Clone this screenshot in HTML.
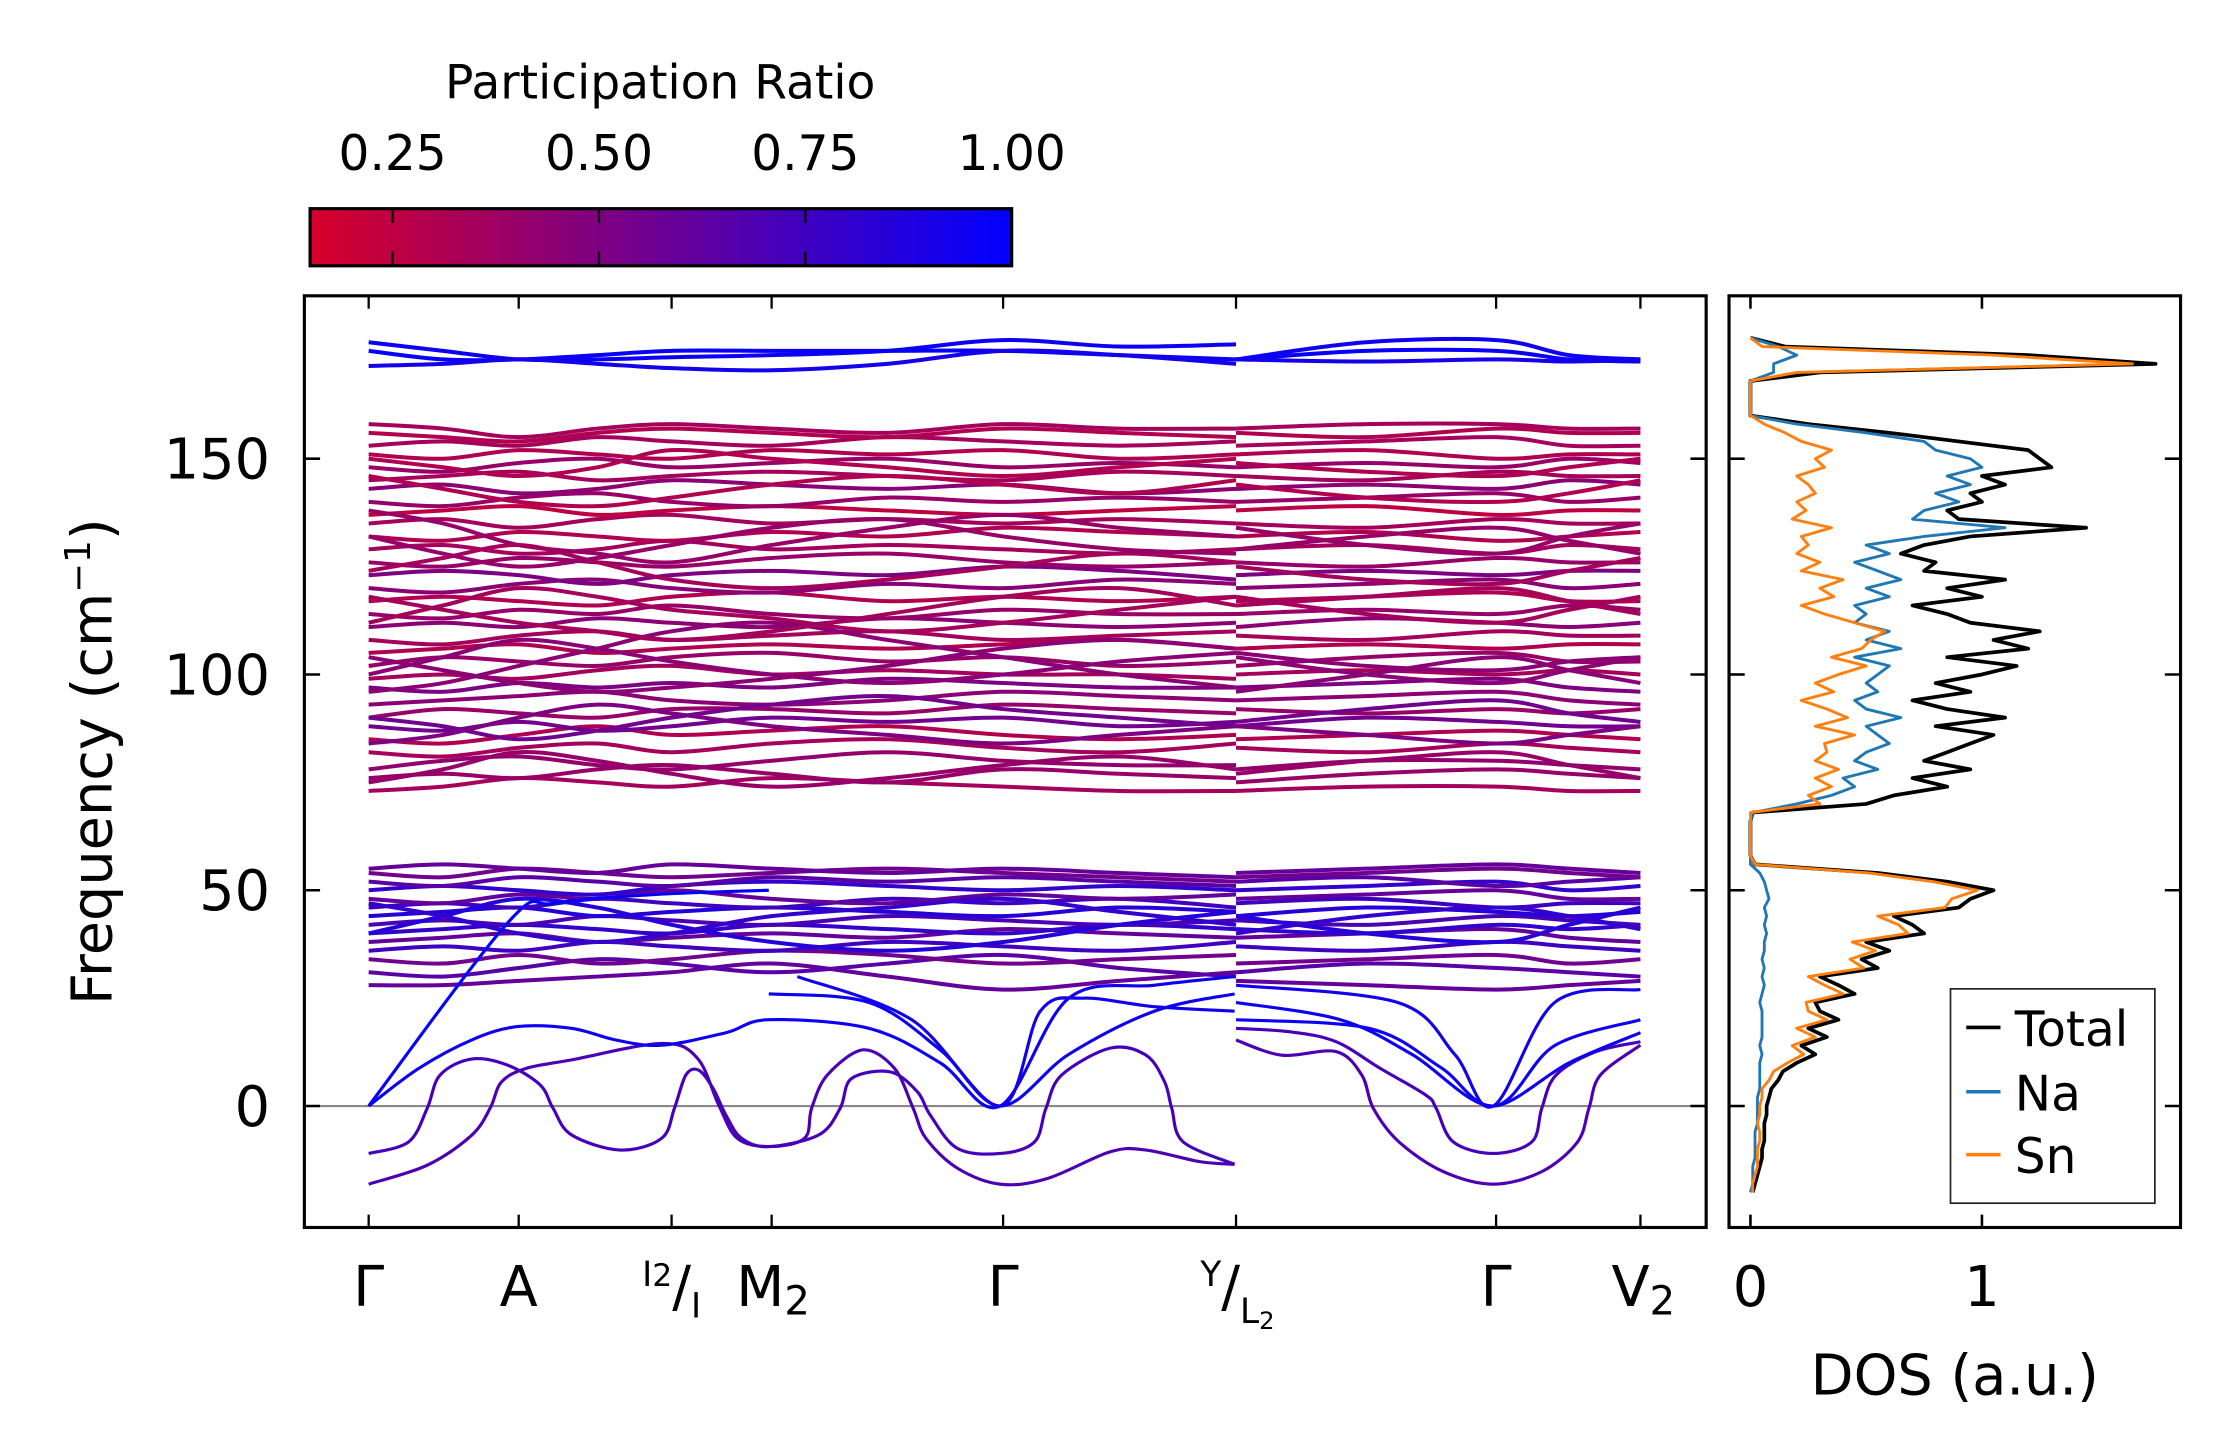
<!DOCTYPE html>
<html><head><meta charset="utf-8"><style>
html,body{margin:0;padding:0;background:#fff;}
svg{display:block;font-family:"DejaVu Sans","Liberation Sans",sans-serif;}
</style></head><body>
<svg id="fig" width="2222" height="1455" viewBox="0 0 1555 1018.2" xmlns="http://www.w3.org/2000/svg">
<defs>
<linearGradient id="cmap" x1="0" x2="1" y1="0" y2="0">
<stop offset="0" stop-color="rgb(215,0,42)"/><stop offset="1" stop-color="rgb(0,0,255)"/>
</linearGradient>
<clipPath id="mainClip"><rect x="213" y="207" width="981" height="652"/></clipPath>
<clipPath id="dosClip"><rect x="1210" y="207" width="316" height="652"/></clipPath>
</defs>
<g>
<text x="462" y="69" font-size="33" text-anchor="middle">Participation Ratio</text>
<rect x="217" y="146" width="491" height="40" fill="url(#cmap)" stroke="#000" stroke-width="2.2"/>
<g id="cbTicks"></g>
</g>
<g id="mainPlot">
<line x1="213" x2="1194" y1="774" y2="774" stroke="#888" stroke-width="1.5"/>
<g id="bands" clip-path="url(#mainClip)"></g>
<rect x="213" y="207" width="981" height="652" fill="none" stroke="#000" stroke-width="2.2"/>
<g id="mainTicks"></g>
<text transform="translate(78,533) rotate(-90)" font-size="39" text-anchor="middle">Frequency (cm<tspan font-size="25" dy="-15">−1</tspan><tspan dy="15">)</tspan></text>
<g font-size="39" text-anchor="middle">
<text x="258" y="914">Γ</text>
<text x="363" y="914">A</text>
<text x="470" y="914"><tspan font-size="24" dy="-14">I</tspan><tspan font-size="22" dy="0">2</tspan><tspan dy="14">/</tspan><tspan font-size="24" dy="8">I</tspan></text>
<text x="541" y="914">M<tspan font-size="28" dy="6">2</tspan></text>
<text x="702" y="914">Γ</text>
<text x="866" y="914"><tspan font-size="24" dy="-14">Y</tspan><tspan dy="14">/</tspan><tspan font-size="24" dy="12">L</tspan><tspan font-size="17" dy="4">2</tspan></text>
<text x="1047" y="914">Γ</text>
<text x="1150" y="914">V<tspan font-size="28" dy="6">2</tspan></text>
</g>
</g>
<g id="dosPlot">
<g id="dosLines" clip-path="url(#dosClip)"></g>
<rect x="1210" y="207" width="316" height="652" fill="none" stroke="#000" stroke-width="2.2"/>
<g id="dosTicks"></g>
<text x="1368" y="976" font-size="39" text-anchor="middle">DOS (a.u.)</text>
<g>
<rect x="1365" y="692" width="143" height="150" fill="#fff" stroke="#222" stroke-width="1.2"/>
<line x1="1376" x2="1400" y1="719" y2="719" stroke="#000" stroke-width="2.5"/><text x="1410" y="732" font-size="34">Total</text>
<line x1="1376" x2="1400" y1="764" y2="764" stroke="#1f77b4" stroke-width="2.5"/><text x="1410" y="777" font-size="34">Na</text>
<line x1="1376" x2="1400" y1="808" y2="808" stroke="#ff7f0e" stroke-width="2.5"/><text x="1410" y="821" font-size="34">Sn</text>
</g>
</g>
</svg>
<script>
const kLabelPos = [0, 1.05, 2.12, 2.82, 4.44, 6.07, 7.89, 8.9];
const kC1 = [0,0.52,1.05,1.6,2.12,2.82,3.63,4.44,5.25,6.07];
const kC2 = [6.07,6.98,7.89,8.4,8.9];
const yTickVals = [0,50,100,150];
const cbTickVals = [0.25,0.5,0.75,1.0];
const cbTickLabels = ["0.25","0.50","0.75","1.00"];
const topF = [
[177,175,173,173,173.5,174,175,177.5,176,176.5, 173,177,177.5,174,173],
[175,173,173,174,175,175,175,175,174,173, 173,175,175,173,172.5],
[171.5,172,173,172,171,170.5,172,175,174,172, 173,172.5,173,172.5,173]];
const topP = [0.95,0.97,0.92];
const optF = [
[73,74,76,75,74,76,75,74,73,73, 73,74,74,73,73],
[76,77,76,78,79,77,75,78,77,76, 75,77,78,77,76],
[78,80,81,79,78,80,82,80,79,79, 78,80,80,79,78],
[82,81,83,84,82,84,85,83,82,84, 83,82,84,83,82],
[85,84,86,88,86,87,88,86,85,86, 85,86,87,86,85],
[88,87,89,87,88,90,89,90,88,89, 88,90,89,88,88],
[90,92,91,90,92,92,91,93,92,91, 92,91,92,91,92],
[93,94,95,96,94,93,94,96,95,94, 94,95,96,94,93],
[97,96,98,97,98,97,99,98,97,97, 97,98,99,97,96],
[99,100,99,101,102,100,101,100,100,99, 100,101,100,101,100],
[102,104,103,102,104,105,103,104,102,103, 102,104,105,103,103],
[105,106,107,105,106,107,106,107,108,106, 106,107,106,107,107],
[108,107,109,110,108,109,110,108,109,110, 109,108,110,109,109],
[111,112,111,113,112,111,113,112,111,112, 111,113,112,111,112],
[114,113,115,114,116,114,113,115,114,114, 114,115,114,116,115],
[117,118,117,116,118,119,117,118,117,118, 117,118,119,117,117],
[120,119,121,122,120,119,121,120,122,121, 120,121,122,120,121],
[123,124,123,121,123,124,123,125,124,122, 123,124,123,124,124],
[126,125,127,126,125,127,128,126,125,126, 126,125,127,126,126],
[129,130,128,129,131,129,130,129,128,129, 129,130,128,130,129],
[132,131,133,132,131,133,132,134,133,132, 132,133,131,132,133],
[135,136,134,136,137,135,136,135,136,135, 135,134,136,135,135],
[137,138,139,137,138,139,138,137,138,139, 138,139,137,138,138],
[140,139,141,142,140,139,141,140,141,140, 140,141,142,140,141],
[143,144,142,143,145,144,143,144,142,143, 143,144,143,145,144],
[145,146,147,145,146,147,146,145,147,146, 146,145,147,146,146],
[148,147,149,150,148,149,150,148,149,148, 148,149,148,150,149],
[151,150,152,151,150,152,151,152,150,151, 151,152,150,151,151],
[153,154,153,155,154,153,155,154,153,154, 153,154,155,153,153],
[156,155,154,156,157,156,155,157,156,155, 156,155,157,156,156],
[158,157,155,157,158,157,156,158,157,157, 157,158,158,157,157],
[96,98,102,106,110,112,108,104,100,97, 96,100,104,101,98],
[118,115,112,110,108,110,114,118,120,116, 118,114,112,115,118],
[138,135,130,128,126,130,134,137,134,132, 134,130,128,132,135],
[84,86,90,93,91,88,86,84,86,88, 88,86,84,86,88],
[112,116,120,118,115,113,110,112,115,118, 116,118,120,117,114],
[146,143,140,139,141,144,146,144,142,145, 144,141,140,142,145],
[104,101,98,96,97,99,102,106,108,106, 105,102,101,103,104],
[75,78,82,80,77,74,76,79,81,78, 77,80,82,79,76],
[90,88,85,87,90,93,95,92,90,88, 89,92,94,91,89],
[124,127,130,126,122,120,122,125,128,126, 125,122,121,124,127],
[150,148,146,148,152,150,148,146,148,150, 149,147,146,148,150],
[100,104,108,106,103,100,98,100,103,105, 104,100,98,101,104],
[132,128,125,127,130,134,136,132,129,128, 129,132,134,131,128]];
const optP = [0.35,0.4,0.42,0.35,0.3,0.55,0.4,0.45,0.5,0.35,0.4,0.3,0.35,0.45,0.4,0.3,0.45,0.5,0.4,0.35,0.3,0.35,0.25,0.4,0.45,0.35,0.4,0.3,0.35,0.3,0.35,0.45,0.35,0.4,0.5,0.35,0.3,0.45,0.4,0.55,0.35,0.3,0.45,0.4];
const midF = [
[28,28,29,30,31,33,30,27,29,31, 29,28,27,28,29],
[31,30,32,34,33,31,33,35,32,30, 31,33,32,31,30],
[34,33,35,33,34,36,35,33,34,35, 33,34,35,33,34],
[36,37,36,38,37,36,38,37,36,38, 37,36,38,37,36],
[38,39,40,38,39,40,39,41,40,39, 39,40,41,39,38],
[40,41,42,41,40,42,41,40,42,41, 41,40,42,41,42],
[42,43,42,44,43,42,44,43,42,43, 43,42,44,43,42],
[44,45,46,44,45,46,45,44,46,45, 44,46,45,44,45],
[46,47,46,48,47,46,48,47,48,46, 47,48,46,47,47],
[48,47,49,48,50,48,47,49,48,49, 48,49,50,48,48],
[50,51,50,49,51,52,51,50,51,50, 50,51,52,50,51],
[52,51,53,52,51,53,52,53,52,51, 52,53,51,52,53],
[54,53,55,54,53,54,55,54,53,52, 53,54,55,54,53],
[55,56,55,54,56,55,54,55,54,53, 54,55,56,55,54],
[40,44,48,46,42,38,36,38,42,45, 44,40,38,42,46],
[47,44,40,38,40,44,46,48,45,42, 40,44,46,44,41]];
const midP = [0.6,0.65,0.55,0.75,0.6,0.8,0.7,0.85,0.75,0.6,0.8,0.65,0.55,0.6,0.85,0.8];
const p1K = [0,0.41,0.72,0.85,0.93,1.10,1.42,2.05,2.30,2.45,2.58,2.80,3.05,3.10,3.21,3.46,3.68,3.81,3.90,4.12,4.42,4.75,5.19,5.44,5.82,6.06];
const p1F = [-18.1,-13.7,-6.8,-0.5,5.6,8.7,10.7,14.5,11.1,0.2,-7.5,-9.4,-7.5,-0.5,7.2,13.0,8.7,-0.5,-7.5,-14.4,-18.1,-16.8,-10.6,-10.2,-12.9,-13.5];
const p2K = [0,0.28,0.41,0.50,0.72,0.97,1.20,1.29,1.42,1.76,2.05,2.14,2.22,2.31,2.41,2.50,2.61,2.80,3.15,3.30,3.38,3.65,3.84,3.93,4.12,4.42,4.66,4.74,4.85,5.19,5.44,5.57,5.62,5.70,6.06];
const p2F = [-11,-8.3,-0.5,7.2,10.9,9.5,4.9,-0.5,-6.7,-10.2,-7.5,-0.5,7.2,8.3,4.1,-2.1,-7.5,-9.4,-6.7,-0.5,6.4,7.9,3.3,-2.1,-9.8,-11,-8.3,-0.5,7.2,13.4,11.8,5.6,-0.5,-8.3,-13.5];
const r1K = [6.07,6.39,6.77,6.95,7.03,7.21,7.52,7.87,8.21,8.46,8.54,8.62,8.90];
const r1F = [15.3,11.8,12.6,7.2,-0.5,-8.3,-15.2,-18.1,-15.2,-8.3,-0.5,7.2,14.1];
const r2K = [6.07,6.45,6.77,7.08,7.40,7.47,7.59,7.87,8.14,8.21,8.31,8.59,8.90];
const r2F = [18.0,17.2,14.9,8.7,2.5,-0.5,-8.3,-11,-8.3,-0.5,7.2,12.6,14.9];
const b1K = [0,0.98,1.3,2.0,2.8];
const b1F = [0,42.7,47,49,50];
const b2K = [0,0.35,0.72,1.04,1.42,1.73,2.05,2.5,2.8,3.5,4.0,4.42,4.9,5.5,6.06];
const b2F = [0,8.7,15.3,18.4,18,15.3,14.1,17,20,18,10,0,25,28,30];
const b3K = [2.8,3.5,4.0,4.42,4.9,5.5,6.06];
const b3F = [26,24,13,0,12,22,26];
const b4K = [3.0,3.8,4.42,4.7,5.0,5.5,6.06];
const b4F = [30,20,0,22,25,23,22];
const b5K = [6.07,6.8,7.3,7.87,8.3,8.9];
const b5F = [24,20,12,0,14,20];
const b6K = [6.07,7.0,7.5,7.87,8.4,8.9];
const b6F = [20,18,9,0,10,17];
const b7K = [6.07,7.2,7.6,7.87,8.3,8.9];
const b7F = [28,24,12,0,24,27];
const dosFreq = Array.from({length:100},(_, i)=>-20+2*i);
const dosTotal = [0.01,0.02,0.03,0.04,0.05,0.05,0.06,0.06,0.06,0.07,
0.07,0.08,0.09,0.12,0.14,0.2,0.28,0.22,0.33,0.25,
0.38,0.3,0.28,0.45,0.38,0.3,0.55,0.48,0.6,0.5,
0.75,0.7,0.62,0.9,0.95,1.05,0.85,0.55,0.02,0,
0,0,0,0,0.01,0.5,0.62,0.85,0.7,0.95,
0.75,0.85,0.95,1.05,0.8,1.1,0.85,0.7,0.95,0.8,
1.0,1.15,0.85,1.2,1.05,1.25,0.95,0.85,0.7,1.0,
0.85,1.1,0.75,0.8,0.65,0.75,0.95,1.45,0.9,0.85,
1.0,0.95,1.1,1.0,1.3,1.25,1.2,0.9,0.6,0.25,
0,0,0,0,0,0.3,1.75,1.2,0.15,0];
const dosNa = [0.0,0.01,0.01,0.01,0.02,0.02,0.02,0.02,0.03,0.03,
0.03,0.03,0.04,0.04,0.04,0.04,0.05,0.04,0.05,0.05,
0.05,0.05,0.04,0.05,0.06,0.05,0.06,0.05,0.06,0.06,
0.07,0.06,0.07,0.06,0.08,0.07,0.06,0.04,0,0,
0,0,0,0,0.01,0.2,0.35,0.45,0.4,0.55,
0.45,0.5,0.6,0.55,0.5,0.65,0.5,0.45,0.55,0.5,
0.55,0.6,0.45,0.65,0.5,0.6,0.45,0.5,0.45,0.6,
0.5,0.65,0.55,0.45,0.6,0.5,0.75,1.1,0.7,0.75,
0.9,0.8,0.95,0.85,1.0,0.95,0.8,0.75,0.5,0.2,
0,0,0,0,0,0.1,0.1,0.2,0.12,0];
const dosSn = [0.01,0.01,0.02,0.03,0.03,0.03,0.04,0.04,0.03,0.04,
0.04,0.05,0.05,0.08,0.1,0.16,0.23,0.18,0.28,0.2,
0.33,0.25,0.24,0.4,0.32,0.25,0.49,0.43,0.54,0.44,
0.68,0.64,0.55,0.84,0.87,0.98,0.79,0.51,0.02,0,
0,0,0,0,0,0.3,0.25,0.35,0.28,0.38,
0.28,0.33,0.32,0.45,0.28,0.42,0.33,0.22,0.36,0.28,
0.38,0.5,0.35,0.48,0.52,0.58,0.45,0.32,0.22,0.36,
0.3,0.4,0.22,0.3,0.2,0.25,0.22,0.35,0.18,0.24,
0.2,0.28,0.25,0.2,0.32,0.28,0.35,0.22,0.15,0.06,
0,0,0,0,0,0.2,1.65,1.05,0.05,0];

const NS='http://www.w3.org/2000/svg';
function xK(k){return 258+k*100;}
function yF(f){return 774-f*3.02;}
function xD(v){return 1225+v*162;}
function xCb(p){return 217+(p-0.15)/0.85*491;}
function pColor(p){const t=Math.max(0,Math.min(1,(p-0.15)/0.85));return `rgb(${Math.round(215*(1-t))},0,${Math.round(42+213*t)})`;}
function smoothPath(ks,fs){
  const pts=ks.map((k,i)=>[xK(k),yF(fs[i])]);
  let d=`M${pts[0][0].toFixed(1)},${pts[0][1].toFixed(1)}`;
  for(let i=0;i<pts.length-1;i++){
    const p0=pts[Math.max(0,i-1)],p1=pts[i],p2=pts[i+1],p3=pts[Math.min(pts.length-1,i+2)];
    const c1=[p1[0]+(p2[0]-p0[0])/6,p1[1]+(p2[1]-p0[1])/6];
    const c2=[p2[0]-(p3[0]-p1[0])/6,p2[1]-(p3[1]-p1[1])/6];
    d+=` C${c1[0].toFixed(1)},${c1[1].toFixed(1)} ${c2[0].toFixed(1)},${c2[1].toFixed(1)} ${p2[0].toFixed(1)},${p2[1].toFixed(1)}`;
  }
  return d;
}
const bandsG=document.getElementById('bands');
function addBand(ks,fs,p,w){
  const el=document.createElementNS(NS,'path');
  el.setAttribute('d',smoothPath(ks,fs));
  el.setAttribute('fill','none');
  el.setAttribute('stroke',pColor(p));
  el.setAttribute('stroke-width',w||2.8);
  
  
  bandsG.appendChild(el);
}
function addSplit(fs,p){addBand(kC1,fs.slice(0,10),p);addBand(kC2,fs.slice(10),p);}
optF.forEach((fs,i)=>addSplit(fs,optP[i]));
midF.forEach((fs,i)=>addSplit(fs,midP[i]));
topF.forEach((fs,i)=>addSplit(fs,topP[i]));
addBand(p1K,p1F,0.7,2.2);addBand(p2K,p2F,0.72,2.2);
addBand(r1K,r1F,0.7,2.2);addBand(r2K,r2F,0.72,2.2);
addBand(b1K,b1F,0.98,2.2);addBand(b2K,b2F,0.95,2.2);addBand(b3K,b3F,0.95,2.2);addBand(b4K,b4F,0.93,2.2);
addBand(b5K,b5F,0.95,2.2);addBand(b6K,b6F,0.95,2.2);addBand(b7K,b7F,0.93,2.2);

function line(g,x1,y1,x2,y2,stroke,w,name){
  const l=document.createElementNS(NS,'line');
  l.setAttribute('x1',x1);l.setAttribute('y1',y1);l.setAttribute('x2',x2);l.setAttribute('y2',y2);
  l.setAttribute('stroke',stroke);l.setAttribute('stroke-width',w);
  
  
  g.appendChild(l);return l;
}
function text(g,x,y,s,size,anchor,name){
  const t=document.createElementNS(NS,'text');
  t.setAttribute('x',x);t.setAttribute('y',y);t.setAttribute('font-size',size);t.setAttribute('text-anchor',anchor);
  t.textContent=s;
  
  
  g.appendChild(t);return t;
}
const mt=document.getElementById('mainTicks');
kLabelPos.forEach(k=>{line(mt,xK(k),859,xK(k),850,'#000',1.6,'x-tick');line(mt,xK(k),207,xK(k),216,'#000',1.6,'x-tick-top');});
yTickVals.forEach(v=>{
  line(mt,213,yF(v),224,yF(v),'#000',1.8,'y-tick');
  line(mt,1194,yF(v),1183,yF(v),'#000',1.8,'y-tick-right');
  text(mt,189,yF(v)+14,String(v),39,'end','y-tick-label');
});
const cb=document.getElementById('cbTicks');
cbTickVals.forEach((v,i)=>{
  if(v<1){line(cb,xCb(v),146,xCb(v),156,'#000',1.6,'colorbar-tick');line(cb,xCb(v),176,xCb(v),186,'#000',1.6,'colorbar-tick');}
  text(cb,xCb(v),119,cbTickLabels[i],34,'middle','colorbar-tick-label');
});
const dg=document.getElementById('dosLines');
function dosLine(vals,color,w,name){
  const pl=document.createElementNS(NS,'polyline');
  pl.setAttribute('points',dosFreq.map((f,i)=>`${xD(vals[i]).toFixed(1)},${yF(f).toFixed(1)}`).join(' '));
  pl.setAttribute('fill','none');pl.setAttribute('stroke',color);pl.setAttribute('stroke-width',w);
  pl.setAttribute('stroke-linejoin','round');
  
  
  dg.appendChild(pl);
}
dosLine(dosTotal,'#000',2.6,'dos-total-line');
dosLine(dosNa,'#1f77b4',2,'dos-na-line');
dosLine(dosSn,'#ff7f0e',2,'dos-sn-line');
const dt=document.getElementById('dosTicks');
[0,1].forEach(v=>{
  line(dt,xD(v),859,xD(v),850,'#000',1.8,'dos-x-tick');line(dt,xD(v),207,xD(v),216,'#000',1.8,'dos-x-tick-top');
  text(dt,xD(v),914,String(v),39,'middle','dos-x-tick-label');
});
yTickVals.forEach(v=>{line(dt,1210,yF(v),1221,yF(v),'#000',1.8,'dos-y-tick');line(dt,1526,yF(v),1515,yF(v),'#000',1.8,'dos-y-tick-right');});
</script>
</body></html>
